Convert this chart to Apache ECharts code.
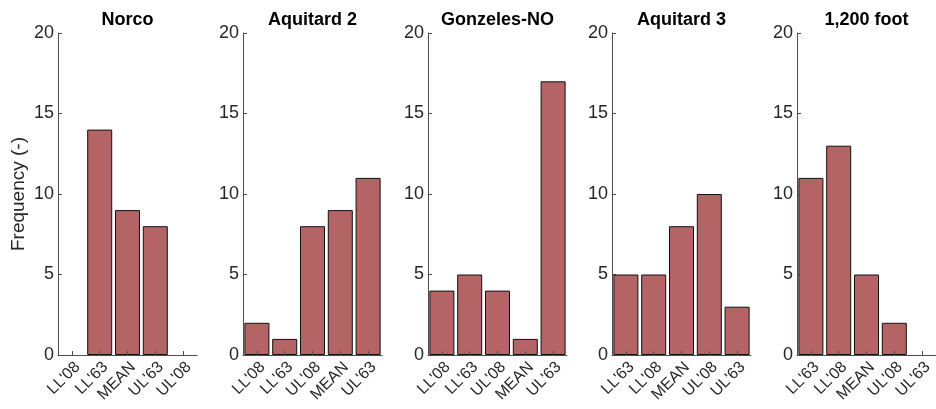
<!DOCTYPE html>
<html><head><meta charset="utf-8">
<script src="https://cdn.jsdelivr.net/npm/echarts@6/dist/echarts.min.js"></script>
<style>html,body{margin:0;padding:0;background:#fff}#c{width:936px;height:409px}</style>
</head><body><div id="c"></div>
<script>
const titles = ["Norco", "Aquitard 2", "Gonzeles-NO", "Aquitard 3", "1,200 foot"];
const cats1 = ["LL'08", "LL'63", "MEAN", "UL'63", "UL'08"];
const vals1 = [0, 14, 9, 8, 0];
const cats2 = ["LL'08", "LL'63", "UL'08", "MEAN", "UL'63"];
const vals2 = [2, 1, 8, 9, 11];
const cats3 = ["LL'08", "LL'63", "UL'08", "MEAN", "UL'63"];
const vals3 = [4, 5, 4, 1, 17];
const cats4 = ["LL'63", "LL'08", "MEAN", "UL'08", "UL'63"];
const vals4 = [5, 5, 8, 10, 3];
const cats5 = ["LL'63", "LL'08", "MEAN", "UL'08", "UL'63"];
const vals5 = [11, 13, 5, 2, 0];
const yTicks = [0, 5, 10, 15, 20];
const yLabel = "Frequency (-)";

const cats = [cats1, cats2, cats3, cats4, cats5];
const vals = [vals1, vals2, vals3, vals4, vals5];
const lefts = [58, 243, 428, 612, 797];
const W = 139, TOP = 33, H = 322;
const FONT = "Liberation Sans";
const txt = "#262626";
const axisCol = "#4d4d4d";

const option = {
  animation: false,
  backgroundColor: "#fff",
  title: titles.map((t, i) => ({
    text: t, left: lefts[i] + W / 2, top: 11, textAlign: "center", padding: 0,
    textStyle: {fontFamily: FONT, fontWeight: "bold", fontSize: 18, color: "#000"}
  })),
  grid: lefts.map(l => ({left: l, top: TOP, width: W, height: H})),
  xAxis: cats.map((c, i) => ({
    type: "category", gridIndex: i, data: c, z: 5,
    axisLine: {show: true, lineStyle: {color: axisCol, width: 1}},
    axisTick: {show: true, inside: true, alignWithLabel: true, length: 4, lineStyle: {color: axisCol}},
    axisLabel: {rotate: 45, fontFamily: FONT, fontSize: 16, color: txt, margin: 4, interval: 0, verticalAlign: "top"},
    splitLine: {show: false}
  })),
  yAxis: cats.map((c, i) => ({
    type: "value", gridIndex: i, min: yTicks[0], max: yTicks[yTicks.length - 1], interval: 5,
    name: i === 0 ? yLabel : "", nameLocation: "middle", nameGap: 30,
    nameTextStyle: {fontFamily: FONT, fontSize: 19, color: txt},
    axisLine: {show: true, lineStyle: {color: axisCol, width: 1}},
    axisTick: {show: true, inside: true, length: 4, lineStyle: {color: axisCol}},
    axisLabel: {fontFamily: FONT, fontSize: 18, color: txt, margin: 4},
    splitLine: {show: false}
  })),
  series: vals.map((v, i) => ({
    type: "bar", xAxisIndex: i, yAxisIndex: i,
    data: v.map(x => x === 0 ? {value: x, itemStyle: {borderWidth: 0}} : x),
    barCategoryGap: "10%",
    itemStyle: {color: "#b46464", borderColor: "#111", borderWidth: 1}
  }))
};
const chart = echarts.init(document.getElementById("c"), null, {renderer: "canvas"});
chart.setOption(option);
</script></body></html>
